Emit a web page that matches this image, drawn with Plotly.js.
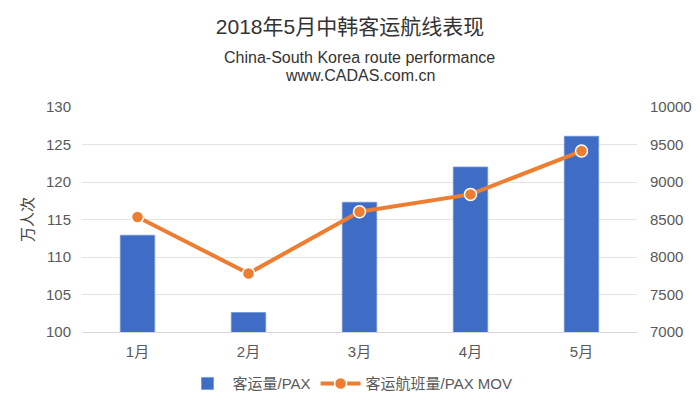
<!DOCTYPE html>
<html>
<head>
<meta charset="utf-8">
<script src="https://cdn.plot.ly/plotly-3.0.1.min.js"></script>
<style>
    html, body { margin: 0; padding: 0; background: #fff; }
    #chart { width: 700px; height: 406px; }
</style>
</head>
<body>
<div id="chart"></div>
<script>
'use strict';

// Chart data
let months = ['1月', '2月', '3月', '4月', '5月'];
let pax = [112.9, 102.6, 117.3, 122.0, 126.1];
let paxMov = [8533, 7781, 8604, 8835, 9413];
let leftTicks = [100, 105, 110, 115, 120, 125, 130];
let rightTicks = [7000, 7500, 8000, 8500, 9000, 9500, 10000];

let font_family = '"Liberation Sans", "Noto Sans CJK SC", sans-serif';

let traceBar = {
    x: months,
    y: pax,
    name: '客运量/PAX',
    type: 'bar',
    marker: {
        color: '#3f6dc6',
        line: { color: '#7194d8', width: 0.8 }
    },
    hoverinfo: 'skip'
};

let traceLine = {
    x: months,
    y: paxMov,
    name: '客运航班量/PAX MOV',
    type: 'scatter',
    mode: 'lines+markers',
    yaxis: 'y2',
    line: { color: '#ed7d31', width: 4 },
    marker: {
        color: '#ed7d31',
        size: 12,
        line: { color: '#ffffff', width: 1.5 }
    },
    hoverinfo: 'skip'
};

let data = [traceBar, traceLine];

let tickFont = { family: font_family, size: 15, color: '#595959' };
// invisible ticks, only to push the labels away from the plot
let hiddenTick = 'rgba(0,0,0,0)';

let layout = {
    width: 700,
    height: 406,
    margin: { l: 82, r: 63, t: 107, b: 74 },
    paper_bgcolor: '#ffffff',
    plot_bgcolor: '#ffffff',
    showlegend: true,
    bargap: 0.69,

    title: {
        text: '2018年5月中韩客运航线表现',
        font: { family: font_family, size: 21, color: '#333333' },
        x: 0.5,
        xanchor: 'center',
        y: 0.935,
        yanchor: 'middle'
    },

    annotations: [
        {
            text: 'China-South Korea route performance',
            xref: 'paper', yref: 'paper',
            x: 0.5, y: 1,
            xanchor: 'center', yanchor: 'middle',
            yshift: 50,
            showarrow: false,
            font: { family: font_family, size: 16, color: '#333333' }
        },
        {
            text: 'www.CADAS.com.cn',
            xref: 'paper', yref: 'paper',
            x: 0.5, y: 1,
            xanchor: 'center', yanchor: 'middle',
            yshift: 32,
            showarrow: false,
            font: { family: font_family, size: 16, color: '#333333' }
        }
    ],

    xaxis: {
        type: 'category',
        tickfont: tickFont,
        showline: true,
        linecolor: '#d9d9d9',
        linewidth: 1,
        ticks: 'outside',
        ticklen: 6,
        tickcolor: hiddenTick,
        showgrid: false,
        automargin: false,
        fixedrange: true
    },

    yaxis: {
        range: [100, 130],
        tickvals: leftTicks,
        tickfont: tickFont,
        showgrid: true,
        gridcolor: '#e4e4e4',
        gridwidth: 1,
        zeroline: false,
        ticks: 'outside',
        ticklen: 7,
        tickcolor: hiddenTick,
        title: {
            text: '万人次',
            font: { family: font_family, size: 15, color: '#404040' },
            standoff: 8
        },
        automargin: false,
        fixedrange: true
    },

    yaxis2: {
        range: [7000, 10000],
        tickvals: rightTicks,
        ticktext: rightTicks.map(String),
        tickfont: tickFont,
        overlaying: 'y',
        side: 'right',
        showgrid: false,
        zeroline: false,
        ticks: 'outside',
        ticklen: 9,
        tickcolor: hiddenTick,
        automargin: false,
        fixedrange: true
    },

    legend: {
        orientation: 'h',
        x: 0.5,
        xanchor: 'center',
        xref: 'container',
        y: 0.055,
        yanchor: 'middle',
        yref: 'container',
        font: { family: font_family, size: 15, color: '#595959' },
        itemwidth: 40
    }
};

let config = {
    displaylogo: false,
    displayModeBar: false,
    staticPlot: true
};

Plotly.newPlot('chart', data, layout, config);
</script>
</body>
</html>
